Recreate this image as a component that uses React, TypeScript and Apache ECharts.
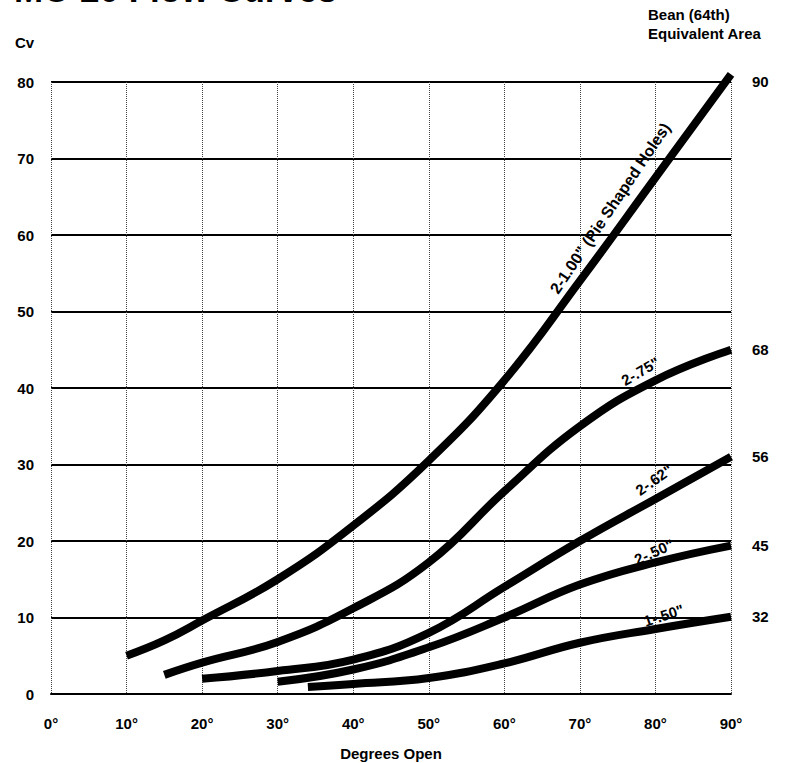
import React, { useEffect, useRef } from "react";
import * as echarts from "echarts";

// Degrees open (x) and Cv (y)
const curve100Deg = [10, 15, 20, 30, 40, 50, 60, 70, 80, 90];
const curve100Cv = [5, 7, 9.6, 15, 22, 30.5, 41, 54, 67.5, 81];
const curve75Deg = [15, 20, 30, 40, 50, 60, 70, 80, 90];
const curve75Cv = [2.5, 4.1, 6.8, 11.2, 17.2, 26.5, 35, 41, 45];
const curve62Deg = [20, 30, 40, 50, 60, 70, 80, 90];
const curve62Cv = [2, 3, 4.5, 8, 14, 20, 25.5, 31];
const curve50x2Deg = [30, 40, 50, 60, 70, 80, 90];
const curve50x2Cv = [1.6, 3.2, 6.1, 10, 14.3, 17.2, 19.4];
const curve50x1Deg = [34, 40, 50, 60, 70, 80, 90];
const curve50x1Cv = [0.9, 1.3, 2.1, 4, 6.7, 8.5, 10.1];

const seriesNames = ['2-1.00" (Pie Shaped Holes)', '2-.75"', '2-.62"', '2-.50"', '1-.50"'];
const beanLabels = ["90", "68", "56", "45", "32"];
// curve label anchor [deg, cv] and rotation
const labelAnchors = [
  [74.0, 63.5],
  [78.0, 42.2],
  [79.8, 28.0],
  [79.8, 18.6],
  [81.1, 10.3],
];
const labelRotations = [56, 30, 35, 24, 18];

const yTicks = { min: 0, max: 80, interval: 10 };
const xTicks = { min: 0, max: 90, interval: 10 };

const FONT = '"Liberation Sans", Arial, Helvetica, sans-serif';

function zip(a: number[], b: number[]) {
  return a.map((v, i) => [v, b[i]]);
}

export default function App() {
  const ref = useRef<HTMLDivElement>(null);
  useEffect(() => {
    document.body.style.margin = "0";
    if (!ref.current) return;
    const chart = echarts.init(ref.current, undefined, { renderer: "svg" });
    const curves = [
      zip(curve100Deg, curve100Cv),
      zip(curve75Deg, curve75Cv),
      zip(curve62Deg, curve62Cv),
      zip(curve50x2Deg, curve50x2Cv),
      zip(curve50x1Deg, curve50x1Cv),
    ];
    const endOffsets = [[0, 7], [0, 0], [0, 0], [0, 0], [0, 0]];
    chart.setOption({
      animation: false,
      backgroundColor: "#fff",
      textStyle: { fontFamily: FONT },
      grid: { left: 51, right: 67, top: 82, bottom: 69, containLabel: false, outerBoundsMode: "none" },
      xAxis: {
        type: "value",
        min: xTicks.min,
        max: xTicks.max,
        interval: xTicks.interval,
        name: "Degrees Open",
        nameLocation: "middle",
        nameGap: 52,
        nameTextStyle: { fontFamily: FONT, fontWeight: "bold", fontSize: 15, color: "#000" },
        axisLine: { show: true, lineStyle: { color: "#000", width: 2 } },
        axisTick: { show: false },
        axisLabel: {
          formatter: "{value}°",
          fontFamily: FONT,
          fontWeight: "bold",
          fontSize: 15,
          color: "#000",
          margin: 22,
        },
        splitLine: { show: true, lineStyle: { color: "#444", type: "dotted", width: 1 } },
      },
      yAxis: {
        type: "value",
        min: yTicks.min,
        max: yTicks.max,
        interval: yTicks.interval,
        axisLine: { show: false },
        axisTick: { show: false },
        axisLabel: {
          fontFamily: FONT,
          fontWeight: "bold",
          fontSize: 15,
          color: "#000",
          margin: 17,
        },
        splitLine: { show: true, lineStyle: { color: "#000", width: 2 } },
      },
      graphic: [
        {
          type: "text",
          left: 14,
          top: -28,
          style: { text: "MC-20 Flow Curves", font: `bold 35px ${FONT}`, fill: "#000" },
        },
        {
          type: "text",
          left: 15,
          top: 35,
          style: { text: "Cv", font: `bold 15px ${FONT}`, fill: "#000" },
        },
        {
          type: "text",
          left: 648,
          top: 7,
          style: { text: "Bean (64th)", font: `bold 15px ${FONT}`, fill: "#000" },
        },
        {
          type: "text",
          left: 648,
          top: 26,
          style: { text: "Equivalent Area", font: `bold 15px ${FONT}`, fill: "#000" },
        },
      ],
      series: curves.map((data, i) => ({
        name: seriesNames[i],
        type: "line",
        data,
        smooth: 0.45,
        clip: false,
        showSymbol: false,
        symbol: "none",
        lineStyle: { color: "#000", width: 8 },
        endLabel: {
          show: true,
          formatter: beanLabels[i],
          distance: 21,
          offset: endOffsets[i],
          fontFamily: FONT,
          fontWeight: "bold",
          fontSize: 15,
          color: "#000",
        },
        markPoint: {
          symbol: "rect",
          symbolSize: 1,
          itemStyle: { color: "transparent" },
          label: {
            show: true,
            position: "inside",
            formatter: seriesNames[i],
            rotate: labelRotations[i],
            fontFamily: FONT,
            fontWeight: "bold",
            fontSize: i === 0 ? 16 : 15,
            color: "#000",
          },
          data: [{ coord: labelAnchors[i] }],
        },
      })),
    });
    return () => chart.dispose();
  }, []);
  return <div ref={ref} style={{ width: 798, height: 763 }} />;
}
